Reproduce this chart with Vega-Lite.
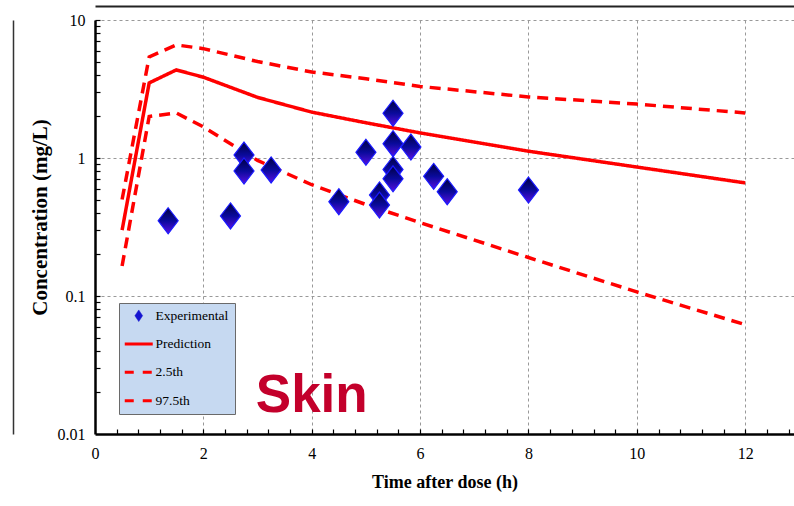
{
  "$schema": "https://vega.github.io/schema/vega-lite/v6.json",
  "width": 699,
  "height": 414,
  "autosize": {"type": "none"},
  "padding": {"left": 95, "top": 20, "right": 0, "bottom": 72},
  "background": "white",
  "config": {"view": {"stroke": null}, "font": "Liberation Serif"},
  "resolve": {"axis": {"x": "independent", "y": "independent"}},
  "datasets": {
    "obs": [
      {"t": 1.35, "c": 0.351}, {"t": 2.5, "c": 0.38}, {"t": 2.75, "c": 1.05}, {"t": 2.75, "c": 0.805},
      {"t": 3.25, "c": 0.82}, {"t": 4.5, "c": 0.482}, {"t": 5.0, "c": 1.1}, {"t": 5.25, "c": 0.54},
      {"t": 5.25, "c": 0.456}, {"t": 5.5, "c": 2.11}, {"t": 5.5, "c": 1.27}, {"t": 5.5, "c": 0.826},
      {"t": 5.5, "c": 0.707}, {"t": 5.83, "c": 1.2}, {"t": 6.25, "c": 0.736}, {"t": 6.5, "c": 0.57},
      {"t": 8.0, "c": 0.586}
    ],
    "curves": [
      {"series": "Prediction", "t": 0.5, "c": 0.3}, {"series": "Prediction", "t": 1, "c": 3.5},
      {"series": "Prediction", "t": 1.5, "c": 4.35}, {"series": "Prediction", "t": 2, "c": 3.85},
      {"series": "Prediction", "t": 3, "c": 2.75}, {"series": "Prediction", "t": 4, "c": 2.15},
      {"series": "Prediction", "t": 5, "c": 1.8}, {"series": "Prediction", "t": 6, "c": 1.52},
      {"series": "Prediction", "t": 8, "c": 1.12}, {"series": "Prediction", "t": 10, "c": 0.86},
      {"series": "Prediction", "t": 12, "c": 0.66},
      {"series": "2.5th", "t": 0.5, "c": 0.165}, {"series": "2.5th", "t": 1, "c": 2.0},
      {"series": "2.5th", "t": 1.5, "c": 2.12}, {"series": "2.5th", "t": 2, "c": 1.68},
      {"series": "2.5th", "t": 3, "c": 0.96}, {"series": "2.5th", "t": 4, "c": 0.64},
      {"series": "2.5th", "t": 5, "c": 0.46}, {"series": "2.5th", "t": 6, "c": 0.34},
      {"series": "2.5th", "t": 8, "c": 0.19}, {"series": "2.5th", "t": 10, "c": 0.107},
      {"series": "2.5th", "t": 12, "c": 0.062},
      {"series": "97.5th", "t": 0.5, "c": 0.5}, {"series": "97.5th", "t": 1, "c": 5.4},
      {"series": "97.5th", "t": 1.5, "c": 6.6}, {"series": "97.5th", "t": 2, "c": 6.2},
      {"series": "97.5th", "t": 3, "c": 5.0}, {"series": "97.5th", "t": 4, "c": 4.2},
      {"series": "97.5th", "t": 5, "c": 3.75}, {"series": "97.5th", "t": 6, "c": 3.3},
      {"series": "97.5th", "t": 8, "c": 2.77}, {"series": "97.5th", "t": 10, "c": 2.46},
      {"series": "97.5th", "t": 12, "c": 2.12}
    ],
    "note": [{"label": "Skin", "t": 4.0, "c": 0.0144}]
  },
  "layer": [
    {
      "data": {"name": "note"},
      "mark": {"type": "text", "font": "Liberation Sans", "fontWeight": "bold", "fontSize": 53, "color": "#c3002b", "align": "center", "baseline": "alphabetic"},
      "encoding": {
        "x": {"field": "t", "type": "quantitative",
          "axis": {"orient": "top", "offset": 14, "domain": true, "domainColor": "#222", "domainWidth": 2, "ticks": false, "labels": false, "grid": false, "title": null}},
        "y": {"field": "c", "type": "quantitative",
          "axis": {"orient": "left", "offset": 82, "domain": true, "domainColor": "#333", "domainWidth": 1.5, "ticks": false, "labels": false, "grid": false, "title": null}},
        "text": {"field": "label"}
      }
    },
    {
      "data": {"name": "curves"},
      "mark": {"type": "line", "strokeWidth": 3.5},
      "encoding": {
        "x": {
          "field": "t", "type": "quantitative",
          "scale": {"domain": [0, 12.9], "nice": false, "zero": false},
          "axis": {
            "orient": "bottom",
            "values": [0, 2, 4, 6, 8, 10, 12],
            "format": "~g",
            "labelOverlap": false, "labelFlush": false,
            "labelFont": "Liberation Serif", "labelFontSize": 16, "labelColor": "#000",
            "labelPadding": 11,
            "ticks": true, "tickSize": 0,
            "domainColor": "#000", "domainWidth": 2.5,
            "grid": true, "gridColor": "#999", "gridDash": [3, 3], "gridWidth": 1,
            "gridOpacity": {"condition": {"test": "datum.value > 0", "value": 1}, "value": 0},
            "title": "Time after dose (h)", "titleFont": "Liberation Serif", "titleFontSize": 18,
            "titleFontWeight": "bold", "titleColor": "#000", "titleY": 53, "titleBaseline": "alphabetic"
          }
        },
        "y": {
          "field": "c", "type": "quantitative",
          "scale": {"type": "log", "domain": [0.01, 10], "nice": false},
          "axis": {
            "orient": "left",
            "values": [0.01, 0.1, 1, 10],
            "format": "~g",
            "labelOverlap": false, "labelFlush": false,
            "labelFont": "Liberation Serif", "labelFontSize": 16, "labelColor": "#000",
            "labelPadding": 10,
            "ticks": true, "tickSize": 0,
            "domainColor": "#000", "domainWidth": 2.5,
            "grid": true, "gridColor": "#999", "gridDash": [3, 3], "gridWidth": 1,
            "gridOpacity": {"condition": {"test": "datum.value > 0.05", "value": 1}, "value": 0},
            "title": "Concentration (mg/L)", "titleFont": "Liberation Serif", "titleFontSize": 21,
            "titleFontWeight": "bold", "titleColor": "#000", "titleX": -55, "titleY": 197, "titleBaseline": "middle"
          }
        },
        "color": {
          "field": "series", "type": "nominal",
          "scale": {"domain": ["Experimental", "Prediction", "2.5th", "97.5th"], "range": ["#1414d0", "#ff0000", "#ff0000", "#ff0000"]},
          "legend": {
            "orient": "none", "legendX": 24, "legendY": 283, "title": null,
            "fillColor": "#c6d9f1", "strokeColor": "#6a6a6a", "padding": 6,
            "symbolType": "stroke", "symbolStrokeWidth": 3, "symbolOffset": 7,
            "labelFont": "Liberation Serif", "labelFontSize": 13.5, "labelColor": "#000",
            "labelOffset": 10, "rowPadding": 13.3,
            "encode": {
              "symbols": {
                "update": {
                  "shape": {"signal": "datum.value === 'Experimental' ? 'M0,-1.5L1,0L0,1.5L-1,0Z' : 'stroke'"},
                  "size": {"signal": "datum.value === 'Experimental' ? 60 : 784"},
                  "fill": {"signal": "datum.value === 'Experimental' ? '#1414d0' : 'transparent'"},
                  "stroke": {"signal": "datum.value === 'Experimental' ? '#1414d0' : '#ff0000'"},
                  "strokeWidth": {"signal": "datum.value === 'Experimental' ? 0.5 : 3"},
                  "strokeDash": {"signal": "(datum.value === '2.5th' || datum.value === '97.5th') ? [9, 9] : [1, 0]"}
                }
              }
            }
          }
        },
        "strokeDash": {
          "field": "series", "type": "nominal",
          "scale": {"domain": ["Prediction", "2.5th", "97.5th"], "range": [[1, 0], [11, 7], [11, 7]]},
          "legend": null
        }
      }
    },
    {
      "data": {"name": "obs"},
      "mark": {
        "type": "point", "shape": "M0,-1.3L1,0L0,1.3L-1,0Z", "filled": true, "size": 400, "opacity": 1,
        "fill": {"gradient": "linear", "x1": 0, "y1": 0, "x2": 0, "y2": 1,
          "stops": [{"offset": 0, "color": "#000040"}, {"offset": 0.5, "color": "#0a0a9c"}, {"offset": 1, "color": "#5a10e0"}]},
        "stroke": "#1a1aff", "strokeWidth": 1.2
      },
      "encoding": {
        "x": {"field": "t", "type": "quantitative",
          "axis": {
            "orient": "bottom", "offset": -5,
            "values": [0.4, 0.8, 1.2, 1.6, 2, 2.4, 2.8, 3.2, 3.6, 4, 4.4, 4.8, 5.2, 5.6, 6, 6.4, 6.8, 7.2, 7.6, 8, 8.4, 8.8, 9.2, 9.6, 10, 10.4, 10.8, 11.2, 11.6, 12, 12.4, 12.8],
            "tickCount": 200, "tickSize": 5, "tickColor": "#000", "tickWidth": 1.2,
            "domain": false, "labels": false, "grid": false, "title": null
          }},
        "y": {"field": "c", "type": "quantitative",
          "axis": {
            "orient": "left", "offset": -5,
            "values": [0.02, 0.03, 0.04, 0.05, 0.06, 0.07, 0.08, 0.09, 0.1, 0.2, 0.3, 0.4, 0.5, 0.6, 0.7, 0.8, 0.9, 1, 2, 3, 4, 5, 6, 7, 8, 9, 10],
            "tickCount": 200, "tickSize": 5, "tickColor": "#000", "tickWidth": 1.2,
            "domain": false, "labels": false, "grid": false, "title": null
          }}
      }
    }
  ]
}
